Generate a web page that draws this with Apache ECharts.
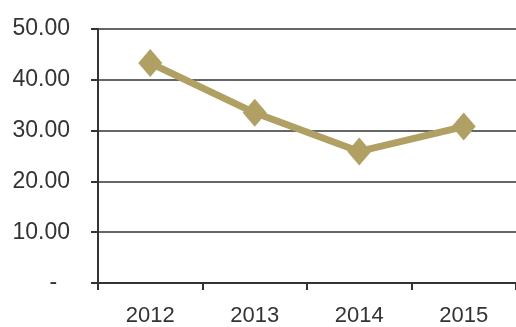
<!DOCTYPE html>
<html>
<head>
<meta charset="utf-8">
<script src="https://cdn.jsdelivr.net/npm/echarts@6/dist/echarts.min.js"></script>
<style>
  html, body { margin: 0; padding: 0; background: #fff; }
  #chart { width: 516px; height: 327px; }
</style>
</head>
<body>
<div id="chart"></div>
<script>
const years = ['2012', '2013', '2014', '2015']
const values = [43.3, 33.5, 25.9, 30.8]
const yMin = 0
const yMax = 50
const yStep = 10

const ink = '#333333'
const lineColor = '#b1a064'
const font = '"Liberation Sans", Arial, sans-serif'

const chart = echarts.init(document.getElementById('chart'))

chart.setOption({
  backgroundColor: '#fff',
  animation: false,
  grid: {
    left: 98,
    top: 29,
    width: 424,
    height: 255,
  },
  xAxis: {
    type: 'category',
    data: years,
    boundaryGap: true,
    axisLine: { lineStyle: { color: ink, width: 2 } },
    axisTick: { show: true, length: 7, lineStyle: { color: ink, width: 2 } },
    axisLabel: {
      color: ink,
      fontFamily: font,
      fontSize: 22,
      margin: 22,
    },
  },
  yAxis: {
    type: 'value',
    min: yMin,
    max: yMax,
    interval: yStep,
    axisLine: { show: true, lineStyle: { color: ink, width: 2 } },
    axisTick: { show: true, length: 7, lineStyle: { color: ink, width: 2 } },
    splitLine: { lineStyle: { color: ink, width: 1.6 } },
    axisLabel: {
      color: ink,
      fontFamily: font,
      fontSize: 23,
      margin: 28,
      formatter: (v) => (v === 0 ? '-  ' : v.toFixed(2)),
    },
  },
  series: [
    {
      type: 'line',
      data: values,
      symbol: 'diamond',
      symbolSize: [24, 28],
      lineStyle: { color: lineColor, width: 7 },
      itemStyle: { color: lineColor },
    },
  ],
})
</script>
</body>
</html>
